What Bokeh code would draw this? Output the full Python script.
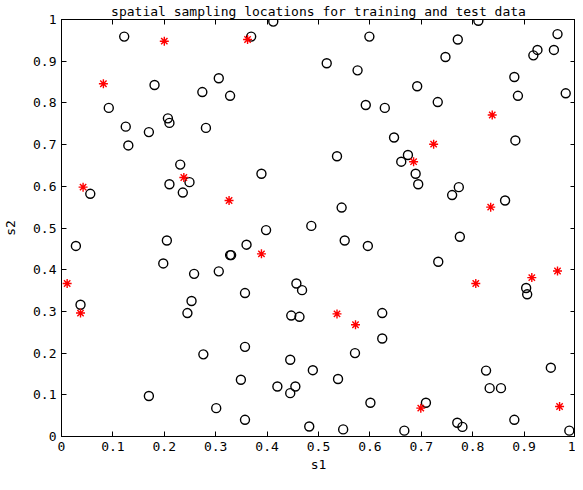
from bokeh.plotting import figure
from bokeh.models import Range1d, LinearAxis, FixedTicker
from bokeh.embed import file_html
from bokeh.resources import INLINE

# training locations (circles)
train_s1 = [0.122, 0.369, 0.412, 0.181, 0.274, 0.306, 0.328, 0.092, 0.125, 0.130,
            0.170, 0.207, 0.210, 0.281, 0.231, 0.249, 0.210, 0.236, 0.056, 0.389,
            0.486,
            0.811, 0.599, 0.771, 0.965, 0.747, 0.926, 0.918, 0.958, 0.516, 0.576,
            0.881, 0.981, 0.888, 0.692, 0.592, 0.629, 0.732, 0.647, 0.883, 0.536,
            0.674, 0.661, 0.689, 0.694, 0.760, 0.773, 0.863, 0.545,
            0.398, 0.028, 0.205, 0.360, 0.328, 0.330, 0.198, 0.258, 0.306, 0.037,
            0.253, 0.245, 0.357, 0.457, 0.468, 0.447, 0.463, 0.276, 0.357, 0.445,
            0.489, 0.349, 0.420, 0.455, 0.445, 0.170, 0.301, 0.357, 0.482,
            0.551, 0.596, 0.775, 0.733, 0.904, 0.906, 0.624, 0.624, 0.571, 0.538,
            0.601, 0.709, 0.826, 0.833, 0.855, 0.952, 0.881, 0.548, 0.667, 0.770,
            0.780, 0.988]
train_s2 = [0.959, 0.959, 0.995, 0.843, 0.826, 0.859, 0.817, 0.788, 0.743, 0.698,
            0.730, 0.763, 0.752, 0.740, 0.652, 0.610, 0.605, 0.585, 0.582, 0.630,
            0.505,
            0.997, 0.959, 0.952, 0.965, 0.910, 0.927, 0.914, 0.927, 0.895, 0.878,
            0.862, 0.823, 0.817, 0.840, 0.795, 0.788, 0.802, 0.717, 0.710, 0.672,
            0.675, 0.659, 0.630, 0.605, 0.579, 0.598, 0.566, 0.549,
            0.495, 0.457, 0.470, 0.460, 0.435, 0.435, 0.415, 0.390, 0.396, 0.316,
            0.325, 0.296, 0.344, 0.367, 0.351, 0.290, 0.287, 0.197, 0.215, 0.184,
            0.159, 0.136, 0.120, 0.120, 0.104, 0.097, 0.068, 0.040, 0.024,
            0.470, 0.457, 0.479, 0.419, 0.356, 0.341, 0.296, 0.235, 0.200, 0.138,
            0.081, 0.081, 0.158, 0.116, 0.116, 0.165, 0.040, 0.017, 0.014, 0.033,
            0.023, 0.014]

# test locations (red asterisks)
test_s1 = [0.200, 0.362, 0.0815, 0.238, 0.042, 0.326, 0.838, 0.724, 0.685, 0.835,
           0.389, 0.011, 0.037, 0.806, 0.915, 0.965, 0.536, 0.572, 0.699, 0.969]
test_s2 = [0.948, 0.952, 0.846, 0.621, 0.598, 0.566, 0.771, 0.701, 0.659, 0.550,
           0.438, 0.367, 0.296, 0.367, 0.381, 0.397, 0.294, 0.268, 0.068, 0.072]

tick_vals = [0, 0.1, 0.2, 0.3, 0.4, 0.5, 0.6, 0.7, 0.8, 0.9, 1]
tick_labels = ["0", "0.1", "0.2", "0.3", "0.4", "0.5", "0.6", "0.7", "0.8", "0.9", "1"]
overrides = {v: t for v, t in zip(tick_vals, tick_labels)}
blank = {v: "" for v in tick_vals}

FONT = "DejaVu Sans Mono"

p = figure(width=575, height=474, output_backend="svg", toolbar_location=None,
           x_range=Range1d(0, 1), y_range=Range1d(0, 1),
           title="spatial sampling locations for training and test data",
           min_border_left=52, min_border_right=0, min_border_top=16,
           min_border_bottom=0)
p.title.align = "center"
p.title.text_font = FONT
p.title.text_font_size = "13px"
p.title.text_font_style = "normal"
p.title.text_color = "black"
p.title.standoff = 2
p.title.offset = 0
p.grid.visible = False
p.outline_line_color = "black"
p.outline_line_width = 1
p.background_fill_color = "white"

for ax in (p.xaxis[0], p.yaxis[0]):
    ax.ticker = FixedTicker(ticks=tick_vals)
    ax.major_label_overrides = overrides
    ax.major_tick_in = 5
    ax.major_tick_out = 0
    ax.minor_tick_line_color = None
    ax.major_label_text_font = FONT
    ax.major_label_text_font_size = "13px"
    ax.major_label_text_color = "black"
    ax.axis_label_text_font = FONT
    ax.axis_label_text_font_size = "13px"
    ax.axis_label_text_font_style = "normal"
    ax.axis_label_text_color = "black"
    ax.axis_line_color = "black"
p.xaxis.major_label_standoff = 5
p.yaxis.major_label_standoff = 5
p.xaxis.axis_label = "s1"
p.yaxis.axis_label = "s2"
p.xaxis.axis_label_standoff = 3
p.yaxis.axis_label_standoff = 12

for side in ("right", "above"):
    ax = LinearAxis(ticker=FixedTicker(ticks=tick_vals))
    ax.major_label_overrides = blank
    ax.major_label_standoff = 0
    ax.major_tick_in = 5
    ax.major_tick_out = 0
    ax.minor_tick_line_color = None
    ax.axis_line_color = "black"
    p.add_layout(ax, side)

p.scatter(train_s1, train_s2, marker="circle", size=9, fill_color=None,
          line_color="black", line_width=1.4)
p.scatter(test_s1, test_s2, marker="asterisk", size=9, line_color="red",
          line_width=1.4)

open("out.html", "w").write(file_html(p, INLINE))
